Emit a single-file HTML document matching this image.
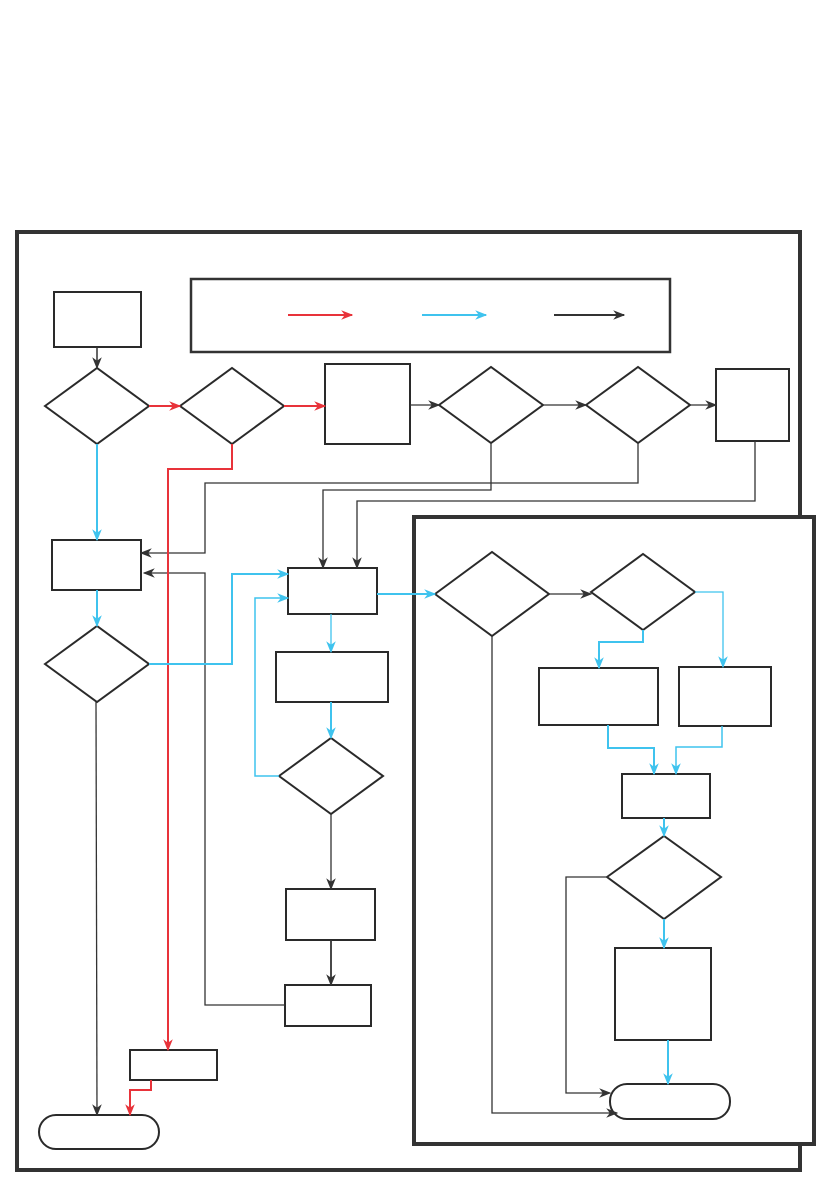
<!DOCTYPE html>
<html><head><meta charset="utf-8"><style>html,body{margin:0;padding:0;background:#fff;}svg{display:block;}</style></head>
<body>
<svg width="832" height="1182" viewBox="0 0 832 1182" xmlns="http://www.w3.org/2000/svg">
<defs>
<marker id="k" viewBox="0 0 10 10" refX="9" refY="5" markerWidth="12" markerHeight="12" orient="auto" markerUnits="userSpaceOnUse"><path d="M0,1 L10,5 L0,9 L3,5 z" fill="#333"/></marker>
<marker id="r" viewBox="0 0 10 10" refX="9" refY="5" markerWidth="12" markerHeight="12" orient="auto" markerUnits="userSpaceOnUse"><path d="M0,1 L10,5 L0,9 L3,5 z" fill="#e8333a"/></marker>
<marker id="b" viewBox="0 0 10 10" refX="9" refY="5" markerWidth="12" markerHeight="12" orient="auto" markerUnits="userSpaceOnUse"><path d="M0,1 L10,5 L0,9 L3,5 z" fill="#3fc3ee"/></marker>
</defs>
<g fill="none" stroke="#333">
<rect x="17" y="232" width="783" height="938" stroke-width="4"/>
<rect x="414" y="517" width="400" height="627" stroke-width="4" fill="#fff"/>
<rect x="191" y="279" width="479" height="73" stroke-width="2.5"/>
</g>
<g fill="#fff" stroke="#2a2a2a" stroke-width="2">
<rect x="54" y="292" width="87" height="55"/>
<polygon points="45,406 97,368 149,406 97,444"/>
<polygon points="180,406 232,368 284,406 232,444"/>
<rect x="325" y="364" width="85" height="80"/>
<polygon points="439,405 491,367 543,405 491,443"/>
<polygon points="586,405 638,367 690,405 638,443"/>
<rect x="716" y="369" width="73" height="72"/>
<rect x="52" y="540" width="89" height="50"/>
<polygon points="45,664 97,626 149,664 97,702"/>
<rect x="288" y="568" width="89" height="46"/>
<rect x="276" y="652" width="112" height="50"/>
<polygon points="279,776 331,738 383,776 331,814"/>
<rect x="286" y="889" width="89" height="51"/>
<rect x="285" y="985" width="86" height="41"/>
<rect x="130" y="1050" width="87" height="30"/>
<rect x="39" y="1115" width="120" height="34" rx="17"/>
<polygon points="435,594 492,552 549,594 492,636"/>
<polygon points="591,592 643,554 695,592 643,630"/>
<rect x="539" y="668" width="119" height="57"/>
<rect x="679" y="667" width="92" height="59"/>
<rect x="622" y="774" width="88" height="44"/>
<polygon points="607,877 664,836 721,877 664,919"/>
<rect x="615" y="948" width="96" height="92"/>
<rect x="610" y="1084" width="120" height="35" rx="17"/>
</g>
<line x1="288" y1="315" x2="352" y2="315" stroke="#e8333a" stroke-width="2" marker-end="url(#r)"/>
<line x1="422" y1="315" x2="486" y2="315" stroke="#3fc3ee" stroke-width="2" marker-end="url(#b)"/>
<line x1="554" y1="315" x2="624" y2="315" stroke="#333" stroke-width="2" marker-end="url(#k)"/>
<g fill="none" stroke="#333" stroke-width="1.3">
<path d="M97,347 V368" marker-end="url(#k)" stroke-width="1.5"/>
<path d="M410,405 H439" marker-end="url(#k)"/>
<path d="M543,405 H586" marker-end="url(#k)"/>
<path d="M690,405 H716" marker-end="url(#k)"/>
<path d="M638,443 V483 H205 V553 H141" marker-end="url(#k)"/>
<path d="M491,443 V490 H323 V568" marker-end="url(#k)"/>
<path d="M755,441 V501 H357 V568" marker-end="url(#k)"/>
<path d="M285,1005 H205 V573 H144" marker-end="url(#k)"/>
<path d="M96,702 L97,1115" marker-end="url(#k)"/>
<path d="M331,814 V889" marker-end="url(#k)"/>
<path d="M331,940 V985" marker-end="url(#k)" stroke-width="1.8"/>
<path d="M549,594 H591" marker-end="url(#k)"/>
<path d="M607,877 H566 V1093 H610" marker-end="url(#k)"/>
<path d="M492,636 V1113 H617" marker-end="url(#k)"/>
</g>
<g fill="none" stroke="#e8333a" stroke-width="2">
<path d="M149,406 H180" marker-end="url(#r)"/>
<path d="M284,406 H325" marker-end="url(#r)"/>
<path d="M232,444 V469 H168 V1050" marker-end="url(#r)"/>
<path d="M151,1080 V1090 H130 V1115" marker-end="url(#r)"/>
</g>
<g fill="none" stroke="#3fc3ee" stroke-width="2">
<path d="M97,444 V540" marker-end="url(#b)"/>
<path d="M97,590 V626" marker-end="url(#b)"/>
<path d="M149,664 H232 V574 H288" marker-end="url(#b)"/>
<path d="M331,614 V652" marker-end="url(#b)" stroke-width="1.3"/>
<path d="M331,702 V738" marker-end="url(#b)"/>
<path d="M279,776 H255 V598 H288" marker-end="url(#b)" stroke-width="1.5"/>
<path d="M377,594 H435" marker-end="url(#b)"/>
<path d="M643,630 V642 H599 V668" marker-end="url(#b)"/>
<path d="M695,592 H723 V667" marker-end="url(#b)" stroke-width="1.3"/>
<path d="M608,725 V748 H654 V774" marker-end="url(#b)"/>
<path d="M722,726 V747 H676 V774" marker-end="url(#b)" stroke-width="1.5"/>
<path d="M664,818 V836" marker-end="url(#b)"/>
<path d="M664,919 V948" marker-end="url(#b)"/>
<path d="M668,1040 V1084" marker-end="url(#b)"/>
</g>
</svg>
</body></html>
